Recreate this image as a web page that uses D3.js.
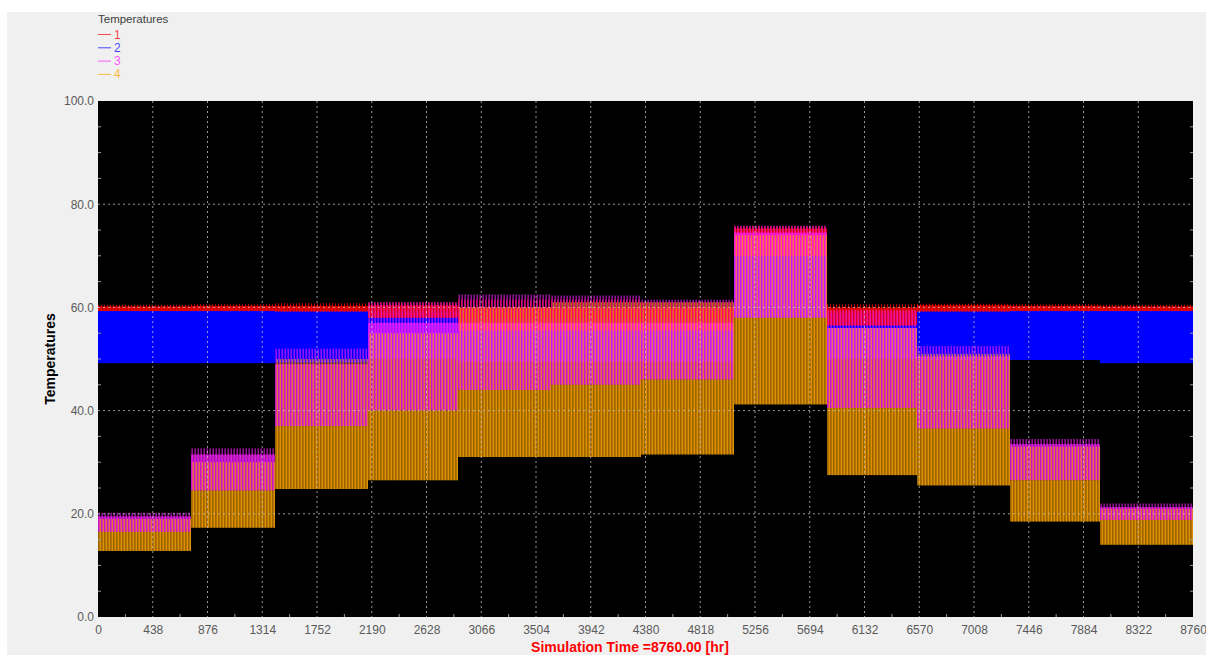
<!DOCTYPE html>
<html>
<head>
<meta charset="utf-8">
<script src="https://cdn.jsdelivr.net/npm/d3@7/dist/d3.min.js"></script>
<style>
  html, body { margin: 0; padding: 0; background: #ffffff; }
  svg { display: block; font-family: "Liberation Sans", Arial, sans-serif; }
</style>
</head>
<body>
<svg id="chart" width="1206" height="655"></svg>
<script>
// ---- data (monthly envelopes) ----
const monthEnds = [0, 744, 1416, 2160, 2880, 3624, 4344, 5088, 5832, 6552, 7296, 8016, 8760];
const xTicks = [0, 438, 876, 1314, 1752, 2190, 2628, 3066, 3504, 3942, 4380, 4818, 5256, 5694, 6132, 6570, 7008, 7446, 7884, 8322, 8760];
const yTicks = [0, 20, 40, 60, 80, 100];
const seriesNames = ["1", "2", "3", "4"];
const seriesColors = ["#ff0000", "#0000ff", "#ff20ff", "#ffa500"];

// series 1 (red)
const s1Low  = [59.3, 59.3, 59.2, 58.0, 55.5, 55.5, 55.5, 70.0, 56.5, 59.2, 59.3, 59.3];
const s1Band = [60.2, 60.3, 60.3, 60.4, 60.0, 60.0, 60.0, 75.3, 60.0, 60.4, 60.3, 60.2];
const s1Peak = [60.5, 60.6, 60.8, 61.0, 61.5, 61.5, 61.0, 75.8, 60.6, 60.7, 60.6, 60.5];
// series 2 (blue)
const s2Low  = [49.2, 49.2, 49.3, 50.0, 49.5, 49.5, 49.5, 58.0, 50.0, 49.8, 49.8, 49.2];
const s2Band = [59.3, 59.4, 59.4, 59.2, 58.0, 58.0, 58.0, 73.5, 59.0, 59.4, 59.4, 59.4];
const s2Peak = [59.3, 59.4, 59.4, 59.2, 58.0, 58.0, 58.0, 73.5, 59.0, 59.4, 59.4, 59.4];
// series 3 (magenta)
const s3Low  = [16.5, 24.5, 37.0, 40.0, 44.0, 45.0, 46.0, 58.0, 40.5, 36.5, 26.5, 18.8];
const s3Band = [19.5, 31.5, 49.0, 57.0, 57.0, 57.0, 57.0, 74.5, 56.0, 50.5, 33.5, 21.3];
const s3Peak = [20.2, 32.7, 52.0, 61.0, 62.5, 62.3, 61.5, 75.8, 59.5, 52.5, 34.5, 22.0];
// series 4 (orange)
const s4Low  = [12.8, 17.3, 24.8, 26.5, 31.0, 31.0, 31.5, 41.2, 27.5, 25.5, 18.5, 14.0];
const s4Band = [16.5, 24.5, 37.0, 40.0, 44.0, 45.0, 46.0, 58.0, 40.5, 36.5, 26.5, 18.8];
const s4Peak = [19.0, 30.0, 50.0, 55.0, 60.0, 61.0, 61.0, 74.0, 56.0, 51.0, 33.0, 21.0];

const series = [
  { name: seriesNames[0], color: seriesColors[0], low: s1Low, band: s1Band, peak: s1Peak, bandOpacity: 0.8, lineOpacity: 0.9, offset: 4 },
  { name: seriesNames[1], color: seriesColors[1], low: s2Low, band: s2Band, peak: s2Peak, bandOpacity: 1.0, lineOpacity: 0.0, offset: 0 },
  { name: seriesNames[2], color: seriesColors[2], low: s3Low, band: s3Band, peak: s3Peak, bandOpacity: 0.66, lineOpacity: 1.0, offset: 9 },
  { name: seriesNames[3], color: seriesColors[3], low: s4Low, band: s4Band, peak: s4Peak, bandOpacity: 0.62, lineOpacity: 1.0, offset: 18 }
];
const drawOrder = [1, 0, 2, 3];

// ---- layout ----
const svg = d3.select("#chart");
const W = 1206, H = 655;
const plot = { left: 98, right: 1193, top: 101, bottom: 617 };

svg.append("rect").attr("x", 0).attr("y", 0).attr("width", W).attr("height", H).attr("fill", "#ffffff");
svg.append("rect").attr("x", 7).attr("y", 12).attr("width", W - 7).attr("height", H - 12).attr("fill", "#f0f0f0");

const x = d3.scaleLinear().domain([0, 8760]).range([plot.left, plot.right]);
const y = d3.scaleLinear().domain([0, 100]).range([plot.bottom, plot.top]);

svg.append("rect")
  .attr("x", plot.left).attr("y", plot.top)
  .attr("width", plot.right - plot.left).attr("height", plot.bottom - plot.top)
  .attr("fill", "#000000");

svg.append("clipPath").attr("id", "plotclip").append("rect")
  .attr("x", plot.left).attr("y", plot.top)
  .attr("width", plot.right - plot.left).attr("height", plot.bottom - plot.top);

const dataG = svg.append("g").attr("clip-path", "url(#plotclip)");

const months = d3.range(12).map(i => ({ i, start: monthEnds[i], end: monthEnds[i + 1] }));

drawOrder.forEach(si => {
  const s = series[si];
  const g = dataG.append("g");
  g.selectAll("rect.band").data(months).join("rect")
    .attr("class", "band")
    .attr("x", m => x(m.start))
    .attr("width", m => x(m.end) - x(m.start))
    .attr("y", m => y(s.band[m.i]))
    .attr("height", m => y(s.low[m.i]) - y(s.band[m.i]))
    .attr("fill", s.color)
    .attr("fill-opacity", s.bandOpacity);
  if (s.lineOpacity > 0) {
    const days = [];
    months.forEach(m => {
      for (let h = m.start; h < m.end; h += 24) days.push({ hour: h + s.offset, m: m.i });
    });
    g.selectAll("line.day").data(days).join("line")
      .attr("class", "day")
      .attr("x1", d => x(d.hour)).attr("x2", d => x(d.hour))
      .attr("y1", d => y(s.low[d.m]))
      .attr("y2", d => y(s.peak[d.m]))
      .attr("stroke", s.color)
      .attr("stroke-width", 0.9)
      .attr("stroke-opacity", s.lineOpacity);
  }
});

// ---- grid (dotted, on top) ----
const gridG = svg.append("g");
gridG.selectAll("line.gx").data(xTicks.filter(t => t > 0 && t < 8760)).join("line")
  .attr("x1", d => x(d)).attr("x2", d => x(d))
  .attr("y1", plot.top).attr("y2", plot.bottom)
  .attr("stroke", "#c8c8c8").attr("stroke-width", 1)
  .attr("stroke-dasharray", "2,3").attr("stroke-opacity", 0.75);
gridG.selectAll("line.gy").data(yTicks.filter(t => t > 0 && t < 100)).join("line")
  .attr("x1", plot.left).attr("x2", plot.right)
  .attr("y1", d => y(d)).attr("y2", d => y(d))
  .attr("stroke", "#c8c8c8").attr("stroke-width", 1)
  .attr("stroke-dasharray", "2,3").attr("stroke-opacity", 0.75);

const yMinor = d3.range(5, 100, 5).filter(v => v % 20 !== 0);
gridG.selectAll("line.my").data(yMinor).join("line")
  .attr("x1", plot.left).attr("x2", plot.left + 3)
  .attr("y1", d => y(d)).attr("y2", d => y(d))
  .attr("stroke", "#9a9a9a").attr("stroke-width", 1);
gridG.selectAll("line.my2").data(yMinor).join("line")
  .attr("x1", plot.right - 3).attr("x2", plot.right)
  .attr("y1", d => y(d)).attr("y2", d => y(d))
  .attr("stroke", "#9a9a9a").attr("stroke-width", 1);
const xMinor = d3.range(219, 8760, 438);
gridG.selectAll("line.mx").data(xMinor).join("line")
  .attr("x1", d => x(d)).attr("x2", d => x(d))
  .attr("y1", plot.bottom - 3).attr("y2", plot.bottom)
  .attr("stroke", "#9a9a9a").attr("stroke-width", 1);

// ---- axes ----
const yAxis = d3.axisLeft(y).tickValues(yTicks).tickFormat(d3.format(".1f")).tickSize(0).tickPadding(4);
const yg = svg.append("g").attr("transform", `translate(${plot.left},0)`).call(yAxis);
yg.select(".domain").remove();
yg.selectAll("text").attr("fill", "#5a5a5a").attr("font-size", "12px")
  .attr("font-family", "'Liberation Sans', Arial, sans-serif");

const xAxis = d3.axisBottom(x).tickValues(xTicks).tickFormat(d3.format("d")).tickSize(0).tickPadding(8);
const xg = svg.append("g").attr("transform", `translate(0,${plot.bottom})`).call(xAxis);
xg.select(".domain").remove();
xg.selectAll("text").attr("fill", "#5a5a5a").attr("font-size", "12px")
  .attr("font-family", "'Liberation Sans', Arial, sans-serif");

svg.append("text")
  .attr("transform", `translate(55,${(plot.top + plot.bottom) / 2}) rotate(-90)`)
  .attr("text-anchor", "middle")
  .attr("font-weight", "bold").attr("font-size", "14px").attr("fill", "#000")
  .text("Temperatures");

svg.append("text")
  .attr("x", 630).attr("y", 652)
  .attr("text-anchor", "middle")
  .attr("font-weight", "bold").attr("font-size", "14px").attr("fill", "#ff0000")
  .text("Simulation Time =8760.00 [hr]");

// legend
const lg = svg.append("g");
lg.append("text").attr("x", 98).attr("y", 23).attr("font-size", "11.5px").attr("fill", "#404040").text("Temperatures");
const items = lg.selectAll("g.item").data(series).join("g").attr("class", "item")
  .attr("transform", (d, i) => `translate(98,${34.5 + i * 13.3})`);
items.append("line").attr("x1", 0).attr("x2", 13).attr("y1", 0).attr("y2", 0)
  .attr("stroke", d => d.color).attr("stroke-width", 1).attr("stroke-opacity", 0.7);
items.append("text").attr("x", 16).attr("y", 4).attr("font-size", "12px")
  .attr("fill", d => d.color).attr("fill-opacity", 0.75).text(d => d.name);
</script>
</body>
</html>
